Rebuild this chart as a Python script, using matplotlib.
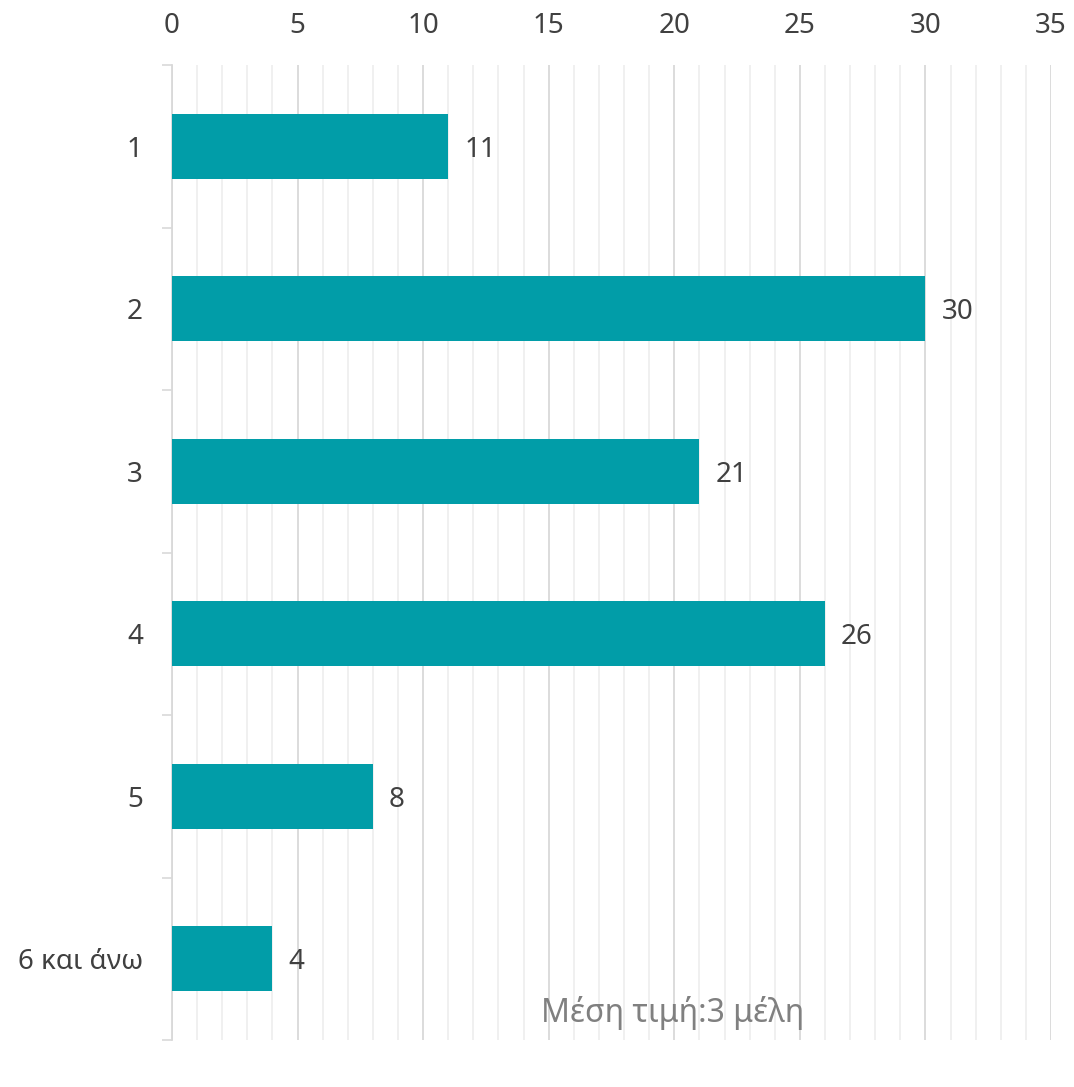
import matplotlib.pyplot as plt
import numpy as np
from matplotlib.ticker import MultipleLocator

plt.rcParams['font.family'] = ['Noto Sans', 'DejaVu Sans']

# data
categories = ['1', '2', '3', '4', '5', '6 και άνω']
counts = [11, 30, 21, 26, 8, 4]
note = 'Μέση τιμή:3 μέλη'

bar_color = '#019da8'
text_color = '#404040'
fs = 20

fig = plt.figure(figsize=(10.74, 10.87), dpi=100)
ax = fig.add_axes([0.1601, 0.0432, 0.8185, 0.897])

pos = np.arange(len(categories))
ax.barh(pos, counts, height=0.4, color=bar_color, zorder=3)

for p, v in zip(pos, counts):
    ax.annotate(str(v), (v, p), xytext=(16, 0), textcoords='offset pixels',
                ha='left', va='center_baseline', fontsize=fs, color=text_color)

# x axis on top
ax.set_xlim(0, 35)
ax.xaxis.tick_top()
ax.xaxis.set_major_locator(MultipleLocator(5))
ax.xaxis.set_minor_locator(MultipleLocator(1))
ax.tick_params(axis='x', which='both', length=0, pad=18, labelsize=fs,
               labelcolor=text_color)
ax.grid(axis='x', which='major', color='#d9d9d9', linewidth=1.3, zorder=0)
ax.grid(axis='x', which='minor', color='#efefef', linewidth=1.3, zorder=0)

# y axis: ticks at boundaries, labels at centers
ax.set_ylim(len(categories) - 0.5, -0.5)
ax.set_yticks(np.arange(-0.5, len(categories), 1.0))
ax.set_yticklabels([])
ax.set_yticks(pos, minor=True)
ax.set_yticklabels(categories, minor=True)
ax.tick_params(axis='y', which='major', length=7, width=1.2, color='#d9d9d9')
ax.tick_params(axis='y', which='minor', length=0, pad=21, labelsize=fs,
               labelcolor=text_color)

for s in ['top', 'right', 'bottom']:
    ax.spines[s].set_visible(False)
ax.spines['left'].set_color('#d9d9d9')
ax.spines['left'].set_linewidth(1.3)

ax.text(0.42, 0.028, note, transform=ax.transAxes, ha='left', va='center',
        fontsize=23, color='#808080')

plt.savefig('out.png', dpi=100)
